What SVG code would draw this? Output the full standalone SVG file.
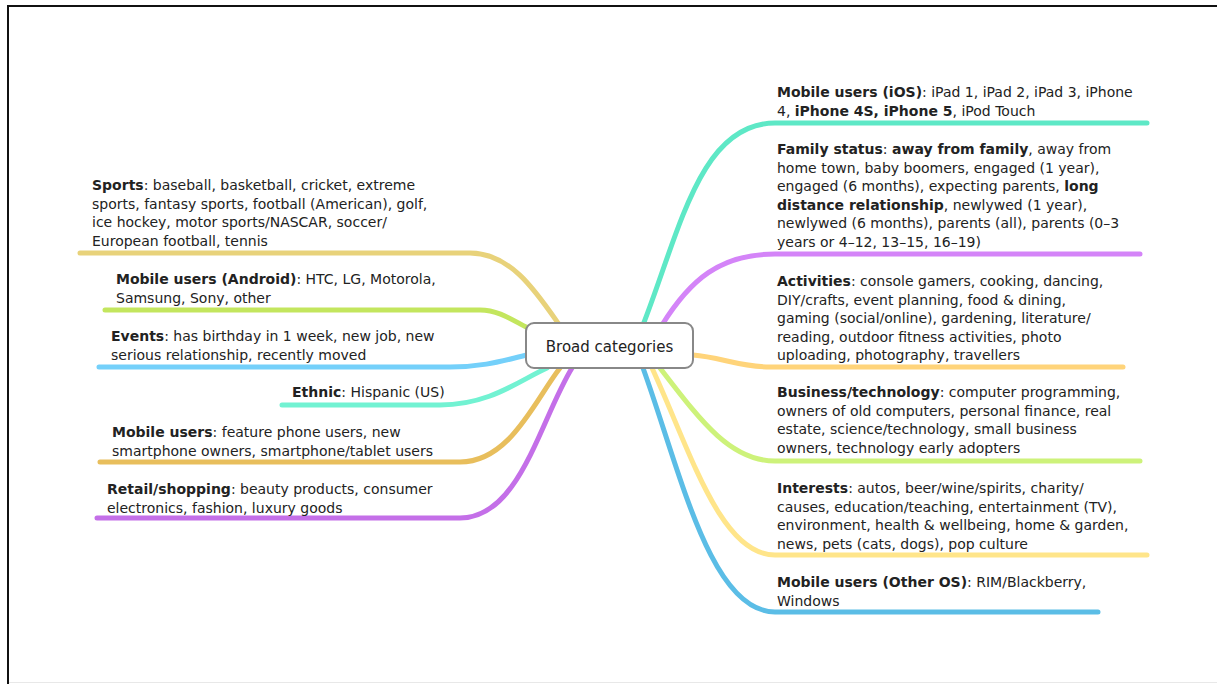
<svg xmlns="http://www.w3.org/2000/svg" width="1217" height="684" viewBox="0 0 1217 684">
<style>
.t{font-family:"DejaVu Sans","Liberation Sans",sans-serif;font-size:14px;fill:#222}
.b{font-weight:bold}
.c{fill:none;stroke-width:5;stroke-linecap:round}
</style>
<rect x="0" y="0" width="1217" height="684" fill="#fff"/>
<g id="frame">
<path d="M8 684 V6 H1217" fill="none" stroke="#111" stroke-width="2"/>
<path d="M9 682.5 H1217" fill="none" stroke="#e8e8e8" stroke-width="1"/>
</g>
<g id="connectors">
<path class="c" stroke="#E8D27A" d="M80 253 H470 C510 253 535 290 558 323"/>
<path class="c" stroke="#C3E65E" d="M105 310 H480 C500 310 515 322 528 328"/>
<path class="c" stroke="#74D0FA" d="M99 367 H450 C485 367 505 360 527 355"/>
<path class="c" stroke="#72F2D2" d="M282 405 H440 C490 405 520 380 547 368"/>
<path class="c" stroke="#E8BE5C" d="M100 462 H460 C510 462 535 400 560 368"/>
<path class="c" stroke="#C46FE8" d="M97 518 H460 C520 518 540 420 572 368"/>
<path class="c" stroke="#5EE8C6" d="M643 325 C680 230 700 123 775 123 H1147"/>
<path class="c" stroke="#D484F8" d="M662 325 C690 280 720 254 775 254 H1140"/>
<path class="c" stroke="#FFD47A" d="M693 355 C720 357 740 367 770 367 H1123"/>
<path class="c" stroke="#CDF27A" d="M660 368 C700 420 730 461 775 461 H1140"/>
<path class="c" stroke="#FFE58A" d="M652 368 C690 450 720 555 775 555 H1147"/>
<path class="c" stroke="#5BBDE6" d="M643 368 C680 470 710 612 775 612 H1098"/>
</g>
<g id="center">
<rect x="526" y="323" width="167" height="45" rx="8" fill="#fff" stroke="#888" stroke-width="2"/>
<text class="t" x="609.5" y="352" text-anchor="middle" style="font-size:15px">Broad categories</text>
</g>
<g id="sports">
<text class="t" x="92" y="190"><tspan class="b">Sports</tspan>: baseball, basketball, cricket, extreme<tspan x="92" dy="18.5">sports, fantasy sports, football (American), golf,</tspan><tspan x="92" dy="18.5">ice hockey, motor sports/NASCAR, soccer/</tspan><tspan x="92" dy="18.5">European football, tennis</tspan></text>
</g>
<g id="android">
<text class="t" x="116" y="284"><tspan class="b">Mobile users (Android)</tspan>: HTC, LG, Motorola,<tspan x="116" dy="18.5">Samsung, Sony, other</tspan></text>
</g>
<g id="events">
<text class="t" x="111" y="341"><tspan class="b">Events</tspan>: has birthday in 1 week, new job, new<tspan x="111" dy="18.5">serious relationship, recently moved</tspan></text>
</g>
<g id="ethnic">
<text class="t" x="292" y="397"><tspan class="b">Ethnic</tspan>: Hispanic (US)</text>
</g>
<g id="mobile">
<text class="t" x="112" y="437"><tspan class="b">Mobile users</tspan>: feature phone users, new<tspan x="112" dy="18.5">smartphone owners, smartphone/tablet users</tspan></text>
</g>
<g id="retail">
<text class="t" x="107" y="494"><tspan class="b">Retail/shopping</tspan>: beauty products, consumer<tspan x="107" dy="18.5">electronics, fashion, luxury goods</tspan></text>
</g>
<g id="ios">
<text class="t" x="777" y="97"><tspan class="b">Mobile users (iOS)</tspan>: iPad 1, iPad 2, iPad 3, iPhone<tspan x="777" dy="18.5">4, </tspan><tspan class="b">iPhone 4S, iPhone 5</tspan>, iPod Touch</text>
</g>
<g id="family">
<text class="t" x="777" y="154"><tspan class="b">Family status</tspan>: <tspan class="b">away from family</tspan>, away from<tspan x="777" dy="18.5">home town, baby boomers, engaged (1 year),</tspan><tspan x="777" dy="18.5">engaged (6 months), expecting parents, </tspan><tspan class="b">long</tspan><tspan x="777" dy="18.5" class="b">distance relationship</tspan>, newlywed (1 year),<tspan x="777" dy="18.5">newlywed (6 months), parents (all), parents (0–3</tspan><tspan x="777" dy="18.5">years or 4–12, 13–15, 16–19)</tspan></text>
</g>
<g id="activities">
<text class="t" x="777" y="286"><tspan class="b">Activities</tspan>: console gamers, cooking, dancing,<tspan x="777" dy="18.5">DIY/crafts, event planning, food &amp; dining,</tspan><tspan x="777" dy="18.5">gaming (social/online), gardening, literature/</tspan><tspan x="777" dy="18.5">reading, outdoor fitness activities, photo</tspan><tspan x="777" dy="18.5">uploading, photography, travellers</tspan></text>
</g>
<g id="business">
<text class="t" x="777" y="397"><tspan class="b">Business/technology</tspan>: computer programming,<tspan x="777" dy="18.5">owners of old computers, personal finance, real</tspan><tspan x="777" dy="18.5">estate, science/technology, small business</tspan><tspan x="777" dy="18.5">owners, technology early adopters</tspan></text>
</g>
<g id="interests">
<text class="t" x="777" y="493"><tspan class="b">Interests</tspan>: autos, beer/wine/spirits, charity/<tspan x="777" dy="18.5">causes, education/teaching, entertainment (TV),</tspan><tspan x="777" dy="18.5">environment, health &amp; wellbeing, home &amp; garden,</tspan><tspan x="777" dy="18.5">news, pets (cats, dogs), pop culture</tspan></text>
</g>
<g id="otheros">
<text class="t" x="777" y="587"><tspan class="b">Mobile users (Other OS)</tspan>: RIM/Blackberry,<tspan x="777" dy="18.5">Windows</tspan></text>
</g>
</svg>
